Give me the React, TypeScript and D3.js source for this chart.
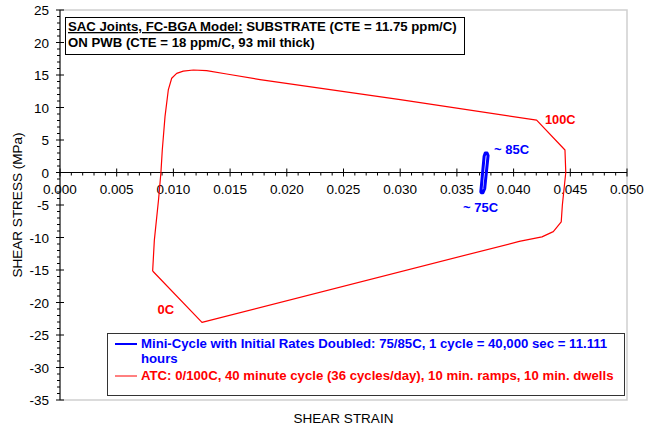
import React, { useEffect, useRef } from "react";
import * as d3 from "d3";

// ATC loop, 0/100C (shear strain, shear stress MPa)
const atcStrain = [
  0.00817, 0.00832, 0.0087, 0.0089, 0.00902, 0.00926, 0.00955, 0.00985, 0.01029,
  0.01087, 0.01176, 0.01293, 0.0147, 0.01764, 0.03, 0.04203, 0.04453, 0.0446,
  0.0443, 0.0442, 0.0435, 0.0425, 0.0405, 0.01252, 0.00817,
];
const atcStress = [
  -15.15, -10.4, -4.0, 0, 3.46, 8.6, 12.7, 14.5, 15.26, 15.6, 15.77, 15.66, 15.15,
  14.3, 11.2, 8.07, 3.46, 0, -5, -7.6, -9.1, -9.9, -10.6, -23.05, -15.15,
];

// Mini-cycle loop, 75/85C
const miniStrain = [0.03711, 0.0374, 0.0375, 0.03766, 0.03775, 0.03745, 0.0373, 0.03715, 0.03711];
const miniStress = [-3.0, 2.5, 3.0, 3.0, 2.6, -2.5, -3.1, -3.1, -3.0];

const xTicks = [0, 0.005, 0.01, 0.015, 0.02, 0.025, 0.03, 0.035, 0.04, 0.045, 0.05];
const yTicks = [25, 20, 15, 10, 5, 0, -5, -10, -15, -20, -25, -30, -35];

const titleLine1a = "SAC Joints, FC-BGA Model:";
const titleLine1b = " SUBSTRATE (CTE = 11.75 ppm/C)";
const titleLine2 = "ON PWB (CTE = 18 ppm/C, 93 mil thick)";
const legendMini = "Mini-Cycle with Initial Rates Doubled: 75/85C, 1 cycle = 40,000 sec = 11.111";
const legendMini2 = "hours";
const legendAtc = "ATC: 0/100C, 40 minute cycle (36 cycles/day), 10 min. ramps, 10 min. dwells";

const W = 657;
const H = 433;
const FONT = "'Liberation Sans', Arial, Helvetica, sans-serif";

export default function App() {
  const ref = useRef<SVGSVGElement>(null);

  useEffect(() => {
    const svg = d3.select(ref.current);
    svg.selectAll("*").remove();

    const x = d3.scaleLinear().domain([0, 0.05]).range([60, 627]);
    const y = d3.scaleLinear().domain([-35, 25]).range([400, 10]);

    // plot area border
    svg
      .append("rect")
      .attr("x", x(0))
      .attr("y", y(25))
      .attr("width", x(0.05) - x(0))
      .attr("height", y(-35) - y(25))
      .attr("fill", "none")
      .attr("stroke", "#cfcfcf")
      .attr("stroke-width", 1.5);

    const axisG = svg.append("g").attr("stroke", "#000").attr("stroke-width", 1);

    // Y axis
    axisG.append("line").attr("x1", x(0)).attr("x2", x(0)).attr("y1", y(25)).attr("y2", y(-35));
    d3.range(-35, 26, 1).forEach((v) => {
      const major = v % 5 === 0;
      axisG
        .append("line")
        .attr("x1", major ? x(0) - 4 : x(0) - 3)
        .attr("x2", major ? x(0) + 4 : x(0))
        .attr("y1", y(v))
        .attr("y2", y(v));
    });

    // X axis along zero stress
    axisG.append("line").attr("x1", x(0)).attr("x2", x(0.05)).attr("y1", y(0)).attr("y2", y(0));
    d3.range(0, 51, 1).forEach((i) => {
      const v = i / 1000;
      const major = i % 5 === 0;
      axisG
        .append("line")
        .attr("x1", x(v))
        .attr("x2", x(v))
        .attr("y1", major ? y(0) - 4 : y(0))
        .attr("y2", major ? y(0) + 4 : y(0) + 3);
    });

    svg
      .append("g")
      .selectAll("text")
      .data(yTicks)
      .join("text")
      .attr("x", x(0) - 11)
      .attr("y", (d) => y(d) + 5)
      .attr("text-anchor", "end")
      .attr("font-family", FONT)
      .attr("font-size", 13.5)
      .text((d) => String(d));

    svg
      .append("g")
      .selectAll("text")
      .data(xTicks)
      .join("text")
      .attr("x", (d) => x(d))
      .attr("y", y(0) + 21)
      .attr("text-anchor", "middle")
      .attr("font-family", FONT)
      .attr("font-size", 13.5)
      .text((d) => d.toFixed(3));

    // axis titles
    svg
      .append("text")
      .attr("transform", `translate(22,${(y(25) + y(-35)) / 2}) rotate(-90)`)
      .attr("text-anchor", "middle")
      .attr("font-family", FONT)
      .attr("font-size", 13.5)
      .text("SHEAR STRESS (MPa)");
    svg
      .append("text")
      .attr("x", (x(0) + x(0.05)) / 2)
      .attr("y", 423)
      .attr("text-anchor", "middle")
      .attr("font-family", FONT)
      .attr("font-size", 13.5)
      .text("SHEAR STRAIN");

    const pathGen = d3
      .line<[number, number]>()
      .x((d) => x(d[0]))
      .y((d) => y(d[1]));
    const atcPts: [number, number][] = atcStrain.map((s, i) => [s, atcStress[i]]);
    const miniPts: [number, number][] = miniStrain.map((s, i) => [s, miniStress[i]]);

    svg
      .append("path")
      .attr("d", pathGen(atcPts))
      .attr("fill", "none")
      .attr("stroke", "#ff0000")
      .attr("stroke-width", 1.2)
      .attr("stroke-linejoin", "round");

    svg
      .append("path")
      .attr("d", pathGen(miniPts) + "Z")
      .attr("fill", "none")
      .attr("stroke", "#0000ff")
      .attr("stroke-width", 3)
      .attr("stroke-linejoin", "round");

    // point annotations
    const ann = (tx: number, ty: number, t: string, c: string, fs: number) =>
      svg
        .append("text")
        .attr("x", tx)
        .attr("y", ty)
        .attr("font-family", FONT)
        .attr("font-weight", "bold")
        .attr("font-size", fs)
        .attr("fill", c)
        .text(t);
    ann(545, 123.5, "100C", "#ff0000", 12.8);
    ann(157.5, 314, "0C", "#ff0000", 13);
    ann(494, 154, "~ 85C", "#0000ff", 13);
    ann(463, 212, "~ 75C", "#0000ff", 13);

    // title box
    svg
      .append("rect")
      .attr("x", 65.5)
      .attr("y", 17.5)
      .attr("width", 399)
      .attr("height", 37)
      .attr("fill", "#fff")
      .attr("stroke", "#000")
      .attr("stroke-width", 1);
    const t1 = svg
      .append("text")
      .attr("x", 68)
      .attr("y", 31)
      .attr("font-family", FONT)
      .attr("font-weight", "bold")
      .attr("font-size", 13.2);
    t1.append("tspan").attr("text-decoration", "underline").text(titleLine1a);
    t1.append("tspan").text(titleLine1b);
    svg
      .append("text")
      .attr("x", 68)
      .attr("y", 47)
      .attr("font-family", FONT)
      .attr("font-weight", "bold")
      .attr("font-size", 13.2)
      .text(titleLine2);

    // legend
    svg
      .append("rect")
      .attr("x", 107.5)
      .attr("y", 333.5)
      .attr("width", 517)
      .attr("height", 62)
      .attr("fill", "#fff")
      .attr("stroke", "#333")
      .attr("stroke-width", 1);
    svg
      .append("line")
      .attr("x1", 115)
      .attr("x2", 137)
      .attr("y1", 344)
      .attr("y2", 344)
      .attr("stroke", "#0000ff")
      .attr("stroke-width", 2);
    svg
      .append("line")
      .attr("x1", 115)
      .attr("x2", 137)
      .attr("y1", 376)
      .attr("y2", 376)
      .attr("stroke", "#ff0000")
      .attr("stroke-width", 1);
    const leg = (ty: number, t: string, c: string) =>
      svg
        .append("text")
        .attr("x", 141)
        .attr("y", ty)
        .attr("font-family", FONT)
        .attr("font-weight", "bold")
        .attr("font-size", 13.2)
        .attr("fill", c)
        .text(t);
    leg(348, legendMini, "#0000ff");
    leg(363, legendMini2, "#0000ff");
    leg(380, legendAtc, "#ff0000");
  }, []);

  return (
    <svg
      ref={ref}
      width={W}
      height={H}
      style={{ position: "absolute", left: 0, top: 0, background: "#fff" }}
    />
  );
}
